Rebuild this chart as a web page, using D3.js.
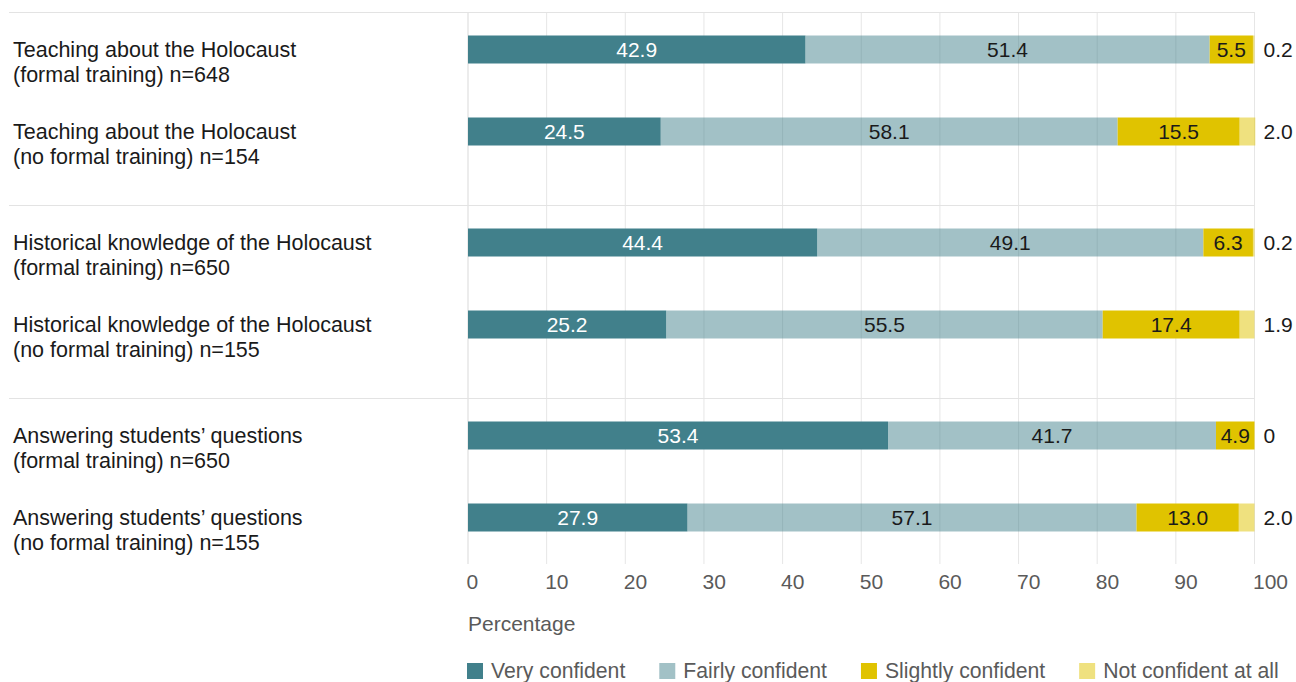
<!DOCTYPE html>
<html>
<head>
<meta charset="utf-8">
<script src="https://cdn.jsdelivr.net/npm/d3@7"></script>
<style>
  html, body { margin: 0; padding: 0; background: #fff; }
  svg { display: block; font-family: "Liberation Sans", Arial, Helvetica, sans-serif; }
</style>
</head>
<body>
<svg id="chart" width="1296" height="682"></svg>
<script>
// ---- data ----
const categories = ["Teaching about the Holocaust", "Historical knowledge of the Holocaust", "Answering students’ questions"];
const subgroups = ["(formal training)", "(no formal training)"];
const sampleSizes = [648, 154, 650, 155, 650, 155];
const seriesNames = ["Very confident", "Fairly confident", "Slightly confident", "Not confident at all"];
const veryConfident     = [42.9, 24.5, 44.4, 25.2, 53.4, 27.9];
const fairlyConfident   = [51.4, 58.1, 49.1, 55.5, 41.7, 57.1];
const slightlyConfident = [5.5, 15.5, 6.3, 17.4, 4.9, 13.0];
const notConfident      = [0.2, 2.0, 0.2, 1.9, 0, 2.0];
const xTicks = [0, 10, 20, 30, 40, 50, 60, 70, 80, 90, 100];
const axisTitle = "Percentage";

// ---- build rows ----
const rows = [];
categories.forEach((c, gi) => {
  subgroups.forEach((s, si) => {
    const i = gi * subgroups.length + si;
    rows.push({
      group: c, sub: s, n: sampleSizes[i],
      "Very confident": veryConfident[i],
      "Fairly confident": fairlyConfident[i],
      "Slightly confident": slightlyConfident[i],
      "Not confident at all": notConfident[i]
    });
  });
});

const colorBase = { "Very confident": "#41808b", "Fairly confident": "#41808b", "Slightly confident": "#e0c300", "Not confident at all": "#e0c300" };
const opacity = { "Very confident": 1, "Fairly confident": 0.49, "Slightly confident": 1, "Not confident at all": 0.5 };
const textColor = { "Very confident": "#ffffff", "Fairly confident": "#1a1a1a", "Slightly confident": "#1a1a1a", "Not confident at all": "#1a1a1a" };

const svg = d3.select("#chart");
const x = d3.scaleLinear().domain([0, 100]).range([468, 1254.5]);
const yGroup = d3.scaleBand().domain(categories).range([12, 12 + 3 * 193]);
const yInner = d3.scalePoint().domain(subgroups).range([37.5, 119.5]);
const barH = 28;
const yc = r => yGroup(r.group) + yInner(r.sub);

// gridlines
svg.append("g").selectAll("line").data(xTicks).join("line")
  .attr("x1", d => x(d)).attr("x2", d => x(d))
  .attr("y1", 12).attr("y2", 564)
  .attr("stroke", d => d === 0 ? "#d9d9d9" : "#e6e6e6").attr("stroke-width", 1);

// group separators
svg.append("g").selectAll("line").data(categories).join("line")
  .attr("x1", 9).attr("x2", x(100))
  .attr("y1", d => yGroup(d) + 0.5).attr("y2", d => yGroup(d) + 0.5)
  .attr("stroke", "#e3e3e3").attr("stroke-width", 1.2);

// stacked bars
const stack = d3.stack().keys(seriesNames);
const stacked = stack(rows);
const gBars = svg.append("g");
stacked.forEach(layer => {
  const key = layer.key;
  gBars.append("g").selectAll("rect").data(layer).join("rect")
    .attr("x", d => x(d[0]))
    .attr("width", d => Math.max(0, x(d[1]) - x(d[0])))
    .attr("y", d => yc(d.data) - barH / 2)
    .attr("height", barH)
    .attr("fill", colorBase[key])
    .attr("fill-opacity", opacity[key]);
});

const fmt = v => v === 0 ? "0" : v.toFixed(1);

// value labels inside bars
stacked.slice(0, 3).forEach(layer => {
  const key = layer.key;
  svg.append("g").selectAll("text").data(layer).join("text")
    .attr("x", d => x((d[0] + d[1]) / 2))
    .attr("y", d => yc(d.data) + 7.5)
    .attr("text-anchor", "middle")
    .attr("font-size", 21)
    .attr("fill", textColor[key])
    .text(d => fmt(d.data[key]));
});
// not-confident labels outside
svg.append("g").selectAll("text").data(rows).join("text")
  .attr("x", x(100) + 9)
  .attr("y", d => yc(d) + 7.5)
  .attr("font-size", 21)
  .attr("fill", "#1a1a1a")
  .text(d => fmt(d["Not confident at all"]));

// row labels
const lab = svg.append("g").selectAll("text").data(rows).join("text")
  .attr("x", 13)
  .attr("y", d => yc(d) + 7)
  .attr("font-size", 21.5)
  .attr("fill", "#1a1a1a");
lab.append("tspan").attr("x", 13).text(d => d.group);
lab.append("tspan").attr("x", 13).attr("dy", 25.5).text(d => d.sub + " n=" + d.n);

// x axis
const axis = d3.axisBottom(x).tickValues(xTicks).tickSize(0).tickPadding(0).tickFormat(d3.format("d"));
const gAxis = svg.append("g").attr("transform", "translate(0,589)").call(axis);
gAxis.select(".domain").remove();
gAxis.selectAll("text")
  .attr("y", 0).attr("dy", 0).attr("dx", -2)
  .attr("text-anchor", "start")
  .attr("font-size", 21)
  .attr("font-family", "Liberation Sans, Arial, sans-serif")
  .attr("fill", "#5a5a5a");

svg.append("text").attr("x", 468).attr("y", 631)
  .attr("font-size", 21).attr("fill", "#5a5a5a").text(axisTitle);

// legend
const legend = svg.append("g");
let lx = 467;
seriesNames.forEach(name => {
  legend.append("rect").attr("x", lx).attr("y", 663).attr("width", 16).attr("height", 16)
    .attr("fill", colorBase[name]).attr("fill-opacity", opacity[name]);
  const t = legend.append("text").attr("x", lx + 24).attr("y", 678)
    .attr("font-size", 21.2).attr("fill", "#5a5a5a").text(name);
  lx = lx + 24 + t.node().getComputedTextLength() + 34;
});
</script>
</body>
</html>
